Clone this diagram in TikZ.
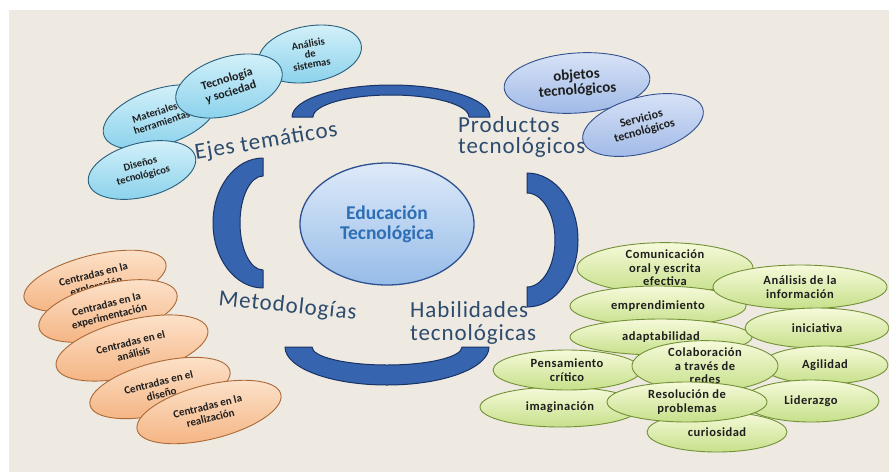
\documentclass[tikz,border=0pt]{standalone}
\usepackage{fontspec}
\setmainfont{Carlito}
\newfontfamily\lblfont[LetterSpace=4]{Carlito}
\newfontfamily\grnfont[LetterSpace=4]{Carlito}
\usetikzlibrary{shapes.geometric}
\definecolor{bgc}{RGB}{238,234,225}
\definecolor{txtc}{RGB}{30,30,30}
\definecolor{lblc}{RGB}{45,75,110}
\definecolor{arcf}{RGB}{55,100,175}
\definecolor{arcd}{RGB}{25,50,100}
\definecolor{cyt}{RGB}{215,242,250}
\definecolor{cyb}{RGB}{135,208,235}
\definecolor{cyd}{RGB}{40,95,125}
\definecolor{lvt}{RGB}{218,228,247}
\definecolor{lvb}{RGB}{158,184,230}
\definecolor{lvd}{RGB}{50,80,140}
\definecolor{pct}{RGB}{253,228,205}
\definecolor{pcb}{RGB}{244,178,128}
\definecolor{pcd}{RGB}{170,105,55}
\definecolor{grt}{RGB}{246,250,218}
\definecolor{grb}{RGB}{198,224,138}
\definecolor{grd}{RGB}{115,145,55}
\definecolor{edt}{RGB}{222,234,249}
\definecolor{edb}{RGB}{150,188,232}
\definecolor{edd}{RGB}{45,80,145}
\definecolor{edtx}{RGB}{46,110,180}
\tikzset{
  el/.style={ellipse, inner sep=0pt, align=center, line width=0.9pt, text=txtc},
  sz/.style 2 args={minimum width=#1pt, minimum height=#2pt},
  cyel/.style={el, draw=cyd, top color=cyt, bottom color=cyb},
  lvel/.style={el, draw=lvd, top color=lvt, bottom color=lvb},
  pcel/.style={el, draw=pcd, top color=pct, bottom color=pcb, font=\bfseries\fontsize{11}{12}\selectfont},
  grel/.style={el, draw=grd, top color=grt, bottom color=grb, font=\grnfont\bfseries\fontsize{12.5}{13.5}\selectfont},
  blockarc/.style={fill=arcf, draw=arcd, line width=1pt, line join=round},
  lbl/.style={inner sep=0pt, anchor=base west, text=lblc, font=\lblfont\fontsize{23}{23}\selectfont}
}
\begin{document}
\begin{tikzpicture}[x=1pt,y=-1pt]
\useasboundingbox (0,0) rectangle (889,472);
\fill[white] (0,0) rectangle (889,472);
\fill[bgc] (9,10) rectangle (889,472);

% block arcs
\draw[blockarc] (292,117) arc[start angle=180, end angle=360, x radius=99, y radius=32]
  -- (469,117) arc[start angle=360, end angle=180, x radius=78, y radius=22] -- cycle;
\draw[blockarc] (285,347) arc[start angle=180, end angle=0, x radius=102, y radius=38]
  -- (462,347) arc[start angle=0, end angle=180, x radius=75, y radius=18] -- cycle;
\draw[blockarc] (263,158) arc[start angle=270, end angle=90, x radius=50, y radius=65]
  -- (263,270) arc[start angle=90, end angle=270, x radius=23, y radius=47] -- cycle;
\draw[blockarc] (527,173) arc[start angle=-90, end angle=90, x radius=51, y radius=67]
  -- (527,287) arc[start angle=90, end angle=-90, x radius=28, y radius=47] -- cycle;

% center
\node[el, draw=edd, line width=1.3pt, top color=edt, bottom color=edb, sz={174}{122},
  text=edtx, font=\bfseries\fontsize{19.5}{20}\selectfont] (edu) at (387,224) {Educación\\Tecnológica};

% cyan
\node[cyel, sz={104}{56}, rotate=10, font=\bfseries\fontsize{10.5}{10.5}\selectfont] (anal) at (310,54) {Análisis\\de\\sistemas};
\node[cyel, sz={118}{56}, rotate=18, font=\bfseries\fontsize{10.5}{11.5}\selectfont] (mat) at (160,117) {Materiales y\\herramientas};
\node[cyel, sz={110}{58}, rotate=17, font=\bfseries\fontsize{12}{13.5}\selectfont] (tec) at (229,86) {Tecnología\\y sociedad};
\node[cyel, sz={110}{54}, rotate=14, font=\bfseries\fontsize{10.5}{12}\selectfont] (dis) at (142,170) {Diseños\\tecnológicos};

% lavender
\node[lvel, sz={146}{60}, rotate=4, font=\bfseries\fontsize{15}{15}\selectfont] (obj) at (577,83) {objetos\\tecnológicos};
\node[lvel, sz={124}{56}, rotate=15, font=\bfseries\fontsize{12}{12.5}\selectfont] (serv) at (643,125) {Servicios\\tecnológicos};

% peach
\node[pcel, sz={146}{52}, rotate=14] (m1) at (95,281) {Centradas en la\\exploración};
\node[pcel, sz={142}{54}, rotate=14] (m2) at (108,311) {Centradas en la\\experimentación};
\node[pcel, sz={156}{56}, rotate=14] (m3) at (132,348) {Centradas en el\\análisis};
\node[pcel, sz={144}{52}, rotate=14] (m4) at (160,388) {Centradas en el\\diseño};
\node[pcel, sz={148}{54}, rotate=14] (m5) at (209,412) {Centradas en la\\realización};

% green
\node[grel, sz={176}{46}] (com) at (665,268) {Comunicación\\oral y escrita\\efectiva};
\node[grel, sz={176}{40}] (emp) at (658,306) {emprendimiento};
\node[grel, sz={174}{44}] (ana) at (800,287) {Análisis de la\\información};
\node[grel, sz={182}{36}] (ada) at (661,337) {adaptabilidad};
\node[grel, sz={144}{40}] (ini) at (817,328) {iniciativa};
\node[grel, sz={126}{38}] (agi) at (825,365) {Agilidad};
\node[grel, sz={160}{40}] (ima) at (560,407) {imaginación};
\node[grel, sz={148}{40}] (pen) at (567,370) {Pensamiento\\crítico};
\node[grel, sz={140}{40}] (cur) at (717,432) {curiosidad};
\node[grel, sz={136}{42}] (lid) at (811,401) {Liderazgo};
\node[grel, sz={146}{44}] (col) at (705,366) {Colaboración\\a través de\\redes};
\node[grel, sz={160}{40}] (res) at (687,402) {Resolución de\\problemas};

% labels
\node[lbl, rotate=9.5] (ejes) at (196,160) {Ejes temáticos};
\node[lbl] (prod1) at (458,132) {Productos};
\node[lbl] (prod2) at (458,153) {tecnológicos};
\node[lbl, rotate=-6] (meto) at (218,305) {Metodologías};
\node[lbl] (hab1) at (410,317) {Habilidades};
\node[lbl] (hab2) at (410,340) {tecnológicas};
\end{tikzpicture}
\end{document}
